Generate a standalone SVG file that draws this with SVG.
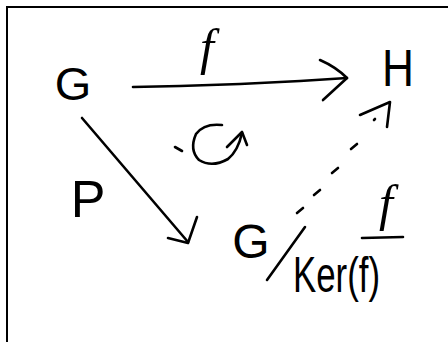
<svg xmlns="http://www.w3.org/2000/svg" width="448" height="342" viewBox="0 0 448 342">
<style>
.s{fill:none;stroke:#000;stroke-width:2.6;stroke-linecap:round;stroke-linejoin:round}
.t{font-family:"Liberation Sans",Arial,sans-serif;fill:#000}
.i{font-family:"Liberation Serif","Times New Roman",serif;font-style:italic;fill:#000}
</style>
<rect width="448" height="342" fill="#fff"/>
<path d="M7 342 V7 H448" fill="none" stroke="#000" stroke-width="2"/>
<g id="G">
<text class="t" x="73" y="100" font-size="47" text-anchor="middle">G</text>
</g>
<g id="H">
<text class="t" x="398" y="86" font-size="52" text-anchor="middle" textLength="32" lengthAdjust="spacingAndGlyphs">H</text>
</g>
<g id="Gquot">
<text class="t" x="251" y="258" font-size="48" text-anchor="middle">G</text>
<path class="s" d="M305 227 L267 280"/>
<text class="t" x="293" y="292" font-size="50" textLength="87" lengthAdjust="spacingAndGlyphs">Ker(f)</text>
</g>
<g id="connectors">
<path class="s" d="M133 87 L180 86 L240 84 L300 81 L347 78"/>
<path class="s" d="M320 60 Q336 67 347 78 L323 100"/>
<path class="s" d="M82 118 L188 242"/>
<path class="s" d="M168 238 L188 243 L197 217"/>
<path class="s" d="M297 213 L303 208 M314 195 L320 190 M332 173 L338 168 M351 149 L357 144 M374 120 L375 119"/>
<path class="s" d="M360 115 L390 102 L387 127"/>
</g>
<g id="labels">
<text class="i" x="207" y="64" font-size="50" text-anchor="middle">f</text>
<text class="t" x="88" y="217" font-size="52" text-anchor="middle">P</text>
<text class="i" x="386" y="220" font-size="50" text-anchor="middle">f</text>
<path class="s" d="M362 238 L403 237"/>
<path class="s" d="M175 147 L182 151"/>
<path class="s" d="M222 125 Q204 123 196 134 Q189 150 199 160 Q212 168 228 159 Q238 151 242 133"/>
<path class="s" d="M227 147 L242 132 L247 145"/>
</g>
</svg>
